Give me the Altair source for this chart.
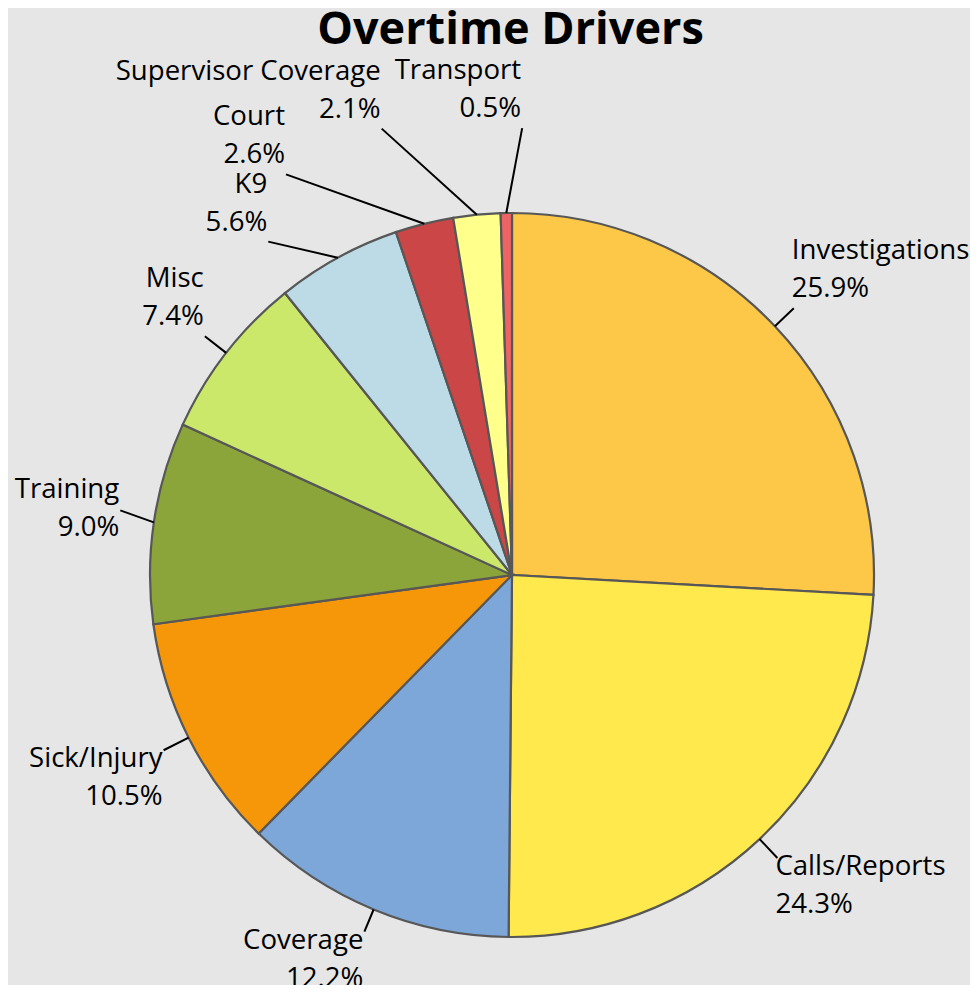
import altair as alt
import pandas as pd

# ---- data ----
categories = ["Investigations", "Calls/Reports", "Coverage", "Sick/Injury", "Training",
              "Misc", "K9", "Court", "Supervisor Coverage", "Transport"]
shares = [25.9, 24.3, 12.2, 10.5, 9.0, 7.4, 5.6, 2.6, 2.1, 0.5]
colors = ["#FDC848", "#FFE94D", "#7DA7D9", "#F59709", "#8BA53A",
          "#CBE86B", "#BDDBE7", "#CB4646", "#FFFF8B", "#EE6363"]

# ---- label layout (leader end radius in px, angular nudge in degrees) ----
leader_radius = [388, 388, 386, 390, 397, 389, 413, 460, 465, 447]
leader_nudge = [0, 0, 0, 0, 1, 0, -7.4, -15.4, -10.7, 2.2]
label_align = ["left", "left", "right", "right", "right", "right", "right", "right", "right", "right"]
label_baseline = ["bottom", "top", "top", "top", "middle", "bottom", "bottom", "bottom", "bottom", "bottom"]

W, H = 962, 977
CX, CY = 504, 567
R = 362
FONT = "Open Sans"
FS = 27.6
LH = 38

df = pd.DataFrame({
    "category": categories,
    "share": shares,
    "idx": list(range(len(categories))),
    "rend": leader_radius,
    "nudge": leader_nudge,
    "align": label_align,
    "baseline": label_baseline,
})

xscale = alt.Scale(domain=[-CX, W - CX], zero=False, nice=False)
yscale = alt.Scale(domain=[-(H - CY), CY], zero=False, nice=False)

pie = alt.Chart(df).mark_arc(
    outerRadius=R, stroke="#575757", strokeWidth=2.2
).encode(
    theta=alt.Theta("share:Q", stack=True),
    color=alt.Color("category:N", scale=alt.Scale(domain=categories, range=colors), legend=None),
    order=alt.Order("idx:Q"),
    x=alt.value(CX),
    y=alt.value(CY),
)

geo = alt.Chart(df).transform_joinaggregate(
    total="sum(share)"
).transform_window(
    cum="sum(share)", sort=[alt.SortField("idx")], frame=[None, 0]
).transform_calculate(
    mid="(datum.cum - datum.share / 2) / datum.total * 2 * PI",
).transform_calculate(
    aend="datum.mid + datum.nudge * PI / 180",
    x0=f"{R} * sin(datum.mid)",
    y0=f"{R} * cos(datum.mid)",
).transform_calculate(
    x1="datum.rend * sin(datum.aend)",
    y1="datum.rend * cos(datum.aend)",
    label="datum.category + '\\n' + format(datum.share, '.1f') + '%'",
)

rules = geo.mark_rule(color="black", strokeWidth=2).encode(
    x=alt.X("x0:Q", scale=xscale, axis=None),
    y=alt.Y("y0:Q", scale=yscale, axis=None),
    x2="x1:Q",
    y2="y1:Q",
)

# vertical shift of the two-line block so that its top / middle / bottom
# sits at the leader end
block_shift = {"top": -5, "middle": -1 - LH / 2, "bottom": -5 - LH}

text_layers = []
combos = []
for a, b in zip(label_align, label_baseline):
    if (a, b) not in combos:
        combos.append((a, b))
for a, b in combos:
    t = geo.transform_filter(
        f"datum.align == '{a}' && datum.baseline == '{b}'"
    ).mark_text(
        align=a, baseline=b, lineBreak="\n", lineHeight=LH,
        font=FONT, fontSize=FS, color="black",
        dx=(-2 if a == "left" else -1), dy=block_shift[b],
    ).encode(
        x=alt.X("x1:Q", scale=xscale, axis=None),
        y=alt.Y("y1:Q", scale=yscale, axis=None),
        text="label:N",
    )
    text_layers.append(t)

title = alt.Chart(pd.DataFrame({"t": ["Overtime Drivers"]})).mark_text(
    font=FONT, fontSize=45, fontWeight="bold", color="black",
    align="center", baseline="alphabetic",
).encode(
    text="t:N",
    x=alt.value(CX - 1.5),
    y=alt.value(36),
)

chart = alt.layer(pie, rules, *text_layers, title).properties(
    width=W, height=H, padding=0, autosize="none", background="#E6E6E6"
).configure_view(stroke=None)

chart.save("out.html", embed_options={"renderer": "svg", "actions": False})
